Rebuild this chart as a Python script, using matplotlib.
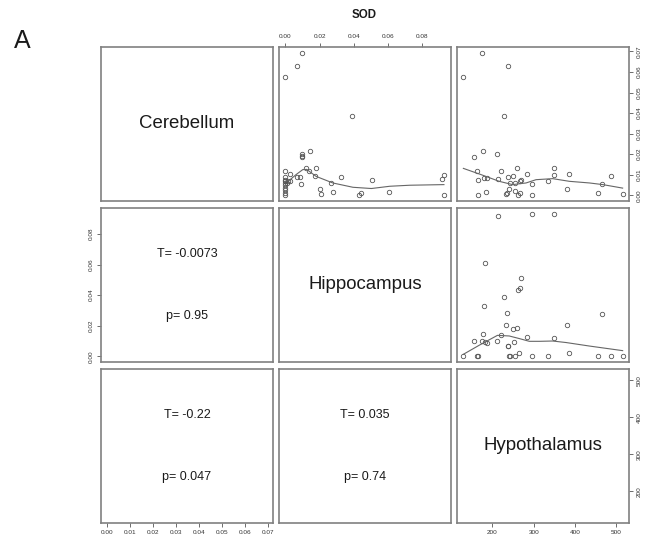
import matplotlib
matplotlib.use("Agg")
import matplotlib.pyplot as plt

plt.rcParams['font.family'] = ['Liberation Sans', 'DejaVu Sans']

# variable names on the diagonal
names = ["Cerebellum", "Hippocampus", "Hypothalamus"]

# panel (1,2): x = Hippocampus, y = Cerebellum
hip_c = [0.0098, 0.0071, 0.0, 0.039, 0.0143, 0.0098, 0.0098, 0.0098, 0.0, 0.0027,
         0.0122, 0.0139, 0.0182, 0.0067, 0.0084, 0.0094, 0.0176, 0.0325, 0.027, 0.0204,
         0.0208, 0.028, 0.043, 0.0443, 0.051, 0.0608, 0.0916, 0.093, 0.0928, 0.0,
         0.0, 0.0, 0.0, 0.0, 0.0, 0.0, 0.0, 0.0, 0.0018, 0.0025, 0.0012]
cer_h = [0.0694, 0.063, 0.0575, 0.0386, 0.0215, 0.0203, 0.0193, 0.0186, 0.0117, 0.0104,
         0.0133, 0.012, 0.0131, 0.0087, 0.0087, 0.0055, 0.0092, 0.0087, 0.0058, 0.0033,
         0.0008, 0.0015, 0.0, 0.001, 0.0076, 0.0015, 0.0079, 0.0097, 0.0001, 0.0087,
         0.0076, 0.0068, 0.006, 0.0052, 0.0035, 0.0024, 0.0011, 0.0, 0.0068, 0.007, 0.0062]
smooth12_x = [0, 0.0024, 0.0063, 0.0102, 0.0125, 0.018, 0.0278, 0.0396, 0.0504, 0.0612, 0.0729, 0.0929]
smooth12_y = [0.0068, 0.0073, 0.0101, 0.0125, 0.0126, 0.0092, 0.006, 0.0039, 0.0033, 0.0044, 0.0049, 0.0052]

# panel (1,3): x = Hypothalamus, y = Cerebellum
hyp_c = [129.4, 174.2, 238.2, 228.5, 155.5, 176.6, 210.7, 162.8, 164.5, 179,
         186.4, 184, 166, 213, 219.5, 238, 243, 248.7, 254.5, 258.4,
         266.6, 269.8, 253.5, 239, 234, 232.6, 262.5, 266.6, 283.7, 294.9,
         294.9, 335.5, 349.4, 349.4, 386.6, 380, 456.4, 465.2, 488, 515.6]
cer_y = [0.0575, 0.0694, 0.063, 0.0386, 0.0188, 0.0215, 0.0203, 0.0117, 0.0074, 0.0086,
         0.0086, 0.0015, 0.0, 0.0081, 0.012, 0.0087, 0.006, 0.0092, 0.006, 0.0131,
         0.0071, 0.0076, 0.0023, 0.0029, 0.0011, 0.0006, 0.0, 0.001, 0.0104, 0.0055,
         0.0003, 0.0068, 0.0133, 0.0097, 0.0104, 0.0033, 0.0011, 0.0055, 0.0092, 0.0008]
smooth13_x = [129.4, 171.8, 216.3, 248.7, 281.3, 305.6, 346, 386.6, 435.3, 467.6, 515.6]
smooth13_y = [0.0131, 0.0101, 0.0068, 0.0052, 0.006, 0.0076, 0.0081, 0.0068, 0.006, 0.0052, 0.0035]

# panel (2,3): x = Hypothalamus, y = Hippocampus
hyp_h = [213, 295, 348.4, 183, 269, 267.5, 262.5, 228.5, 179, 234,
         465.5, 380, 232.6, 248.8, 259.4, 176.6, 219.5, 283.7, 350, 155.5,
         173.7, 186, 182, 210.7, 252.8, 238, 238.5, 265, 385.6, 129.4,
         163.5, 166, 239, 242.4, 254.5, 295, 335.6, 456.5, 488, 515.6]
hip_y = [0.092, 0.0933, 0.0933, 0.061, 0.0512, 0.0446, 0.0436, 0.039, 0.0329, 0.0281,
         0.0275, 0.0207, 0.0207, 0.0176, 0.0185, 0.0144, 0.0142, 0.0124, 0.0122, 0.0098,
         0.0098, 0.0085, 0.0093, 0.0103, 0.0093, 0.0067, 0.0069, 0.0024, 0.0024, 0.0005,
         0.0005, 0.0005, 0.0005, 0.0005, 0.0005, 0.0005, 0.0005, 0.0005, 0.0005, 0.0005]
smooth23_x = [129.4, 167.6, 212, 240.6, 265, 289.3, 313.6, 346, 378.6, 435.3, 515.6]
smooth23_y = [0.0013, 0.0072, 0.0137, 0.0133, 0.0116, 0.0098, 0.0098, 0.01, 0.009, 0.0067, 0.0037]

# Kendall tau and p values for the lower panels: (row, col) -> (T, p)
stats = {(1, 0): ("-0.0073", "0.95"), (2, 0): ("-0.22", "0.047"), (2, 1): ("0.035", "0.74")}

ticks = {0: [0.00, 0.01, 0.02, 0.03, 0.04, 0.05, 0.06, 0.07],
         1: [0.00, 0.02, 0.04, 0.06, 0.08],
         2: [200, 300, 400, 500]}


def rlim(vals):
    # R style 4% padding
    lo, hi = min(vals), max(vals)
    d = (hi - lo) * 0.04
    return lo - d, hi + d


lims = {0: rlim(cer_h + cer_y), 1: rlim(hip_c + hip_y), 2: rlim(hyp_c + hyp_h)}


def fmt(v, var):
    return "%d" % v if var == 2 else "%.2f" % v


W, H = 651, 542
fig = plt.figure(figsize=(W / 100, H / 100), dpi=100)

col_left = [101, 279, 457]
row_top = [47, 208, 369]
pw, ph = 172, 154
frame = "#808080"

axes = {}
for r in range(3):
    for c in range(3):
        ax = fig.add_axes([col_left[c] / W, 1 - (row_top[r] + ph) / H, pw / W, ph / H])
        ax.set_xlim(*lims[c])
        ax.set_ylim(*lims[r])
        ax.set_xticks([])
        ax.set_yticks([])
        for s in ax.spines.values():
            s.set_color(frame)
            s.set_linewidth(1.2)
        axes[(r, c)] = ax

for r in range(3):
    axes[(r, r)].text(0.5, 0.5, names[r], transform=axes[(r, r)].transAxes,
                      ha="center", va="center", fontsize=13.4, color="#1a1a1a")

pt = dict(marker="o", linestyle="none", markersize=3.2, markerfacecolor="none",
          markeredgecolor="#555555", markeredgewidth=0.6)
ln = dict(color="#666666", linewidth=0.8)

axes[(0, 1)].plot(hip_c, cer_h, **pt)
axes[(0, 1)].plot(smooth12_x, smooth12_y, **ln)
axes[(0, 2)].plot(hyp_c, cer_y, **pt)
axes[(0, 2)].plot(smooth13_x, smooth13_y, **ln)
axes[(1, 2)].plot(hyp_h, hip_y, **pt)
axes[(1, 2)].plot(smooth23_x, smooth23_y, **ln)

for (r, c), (t, p) in stats.items():
    ax = axes[(r, c)]
    ax.text(0.5, 0.70, "T= " + t, transform=ax.transAxes, ha="center", va="center",
            fontsize=9, color="#1a1a1a")
    ax.text(0.5, 0.30, "p= " + p, transform=ax.transAxes, ha="center", va="center",
            fontsize=9, color="#1a1a1a")

tick_kw = dict(length=3.2, width=0.6, colors="#555555", labelsize=4.6, pad=2.2,
               labelcolor="#333333", direction="out")

# outer axes, R pairs style alternation
def xaxis(ax, var, top):
    ax.set_xticks(ticks[var])
    ax.set_xticklabels([fmt(v, var) for v in ticks[var]])
    if top:
        ax.xaxis.tick_top()
    ax.tick_params(axis="x", **tick_kw)


def yaxis(ax, var, right):
    ax.set_yticks(ticks[var])
    ax.set_yticklabels([fmt(v, var) for v in ticks[var]], rotation=90, va="center")
    if right:
        ax.yaxis.tick_right()
    ax.tick_params(axis="y", **tick_kw)


xaxis(axes[(0, 1)], 1, True)
xaxis(axes[(2, 0)], 0, False)
xaxis(axes[(2, 2)], 2, False)
yaxis(axes[(0, 2)], 0, True)
yaxis(axes[(1, 0)], 1, False)
yaxis(axes[(2, 2)], 2, True)

fig.text(364 / W, 1 - 15 / H, "SOD", ha="center", va="center", fontsize=8.3,
         fontweight="bold", color="#1a1a1a")
fig.text(14 / W, 1 - 48 / H, "A", ha="left", va="baseline", fontsize=18, color="#1a1a1a")

fig.savefig("out.png", dpi=100, facecolor="white")
